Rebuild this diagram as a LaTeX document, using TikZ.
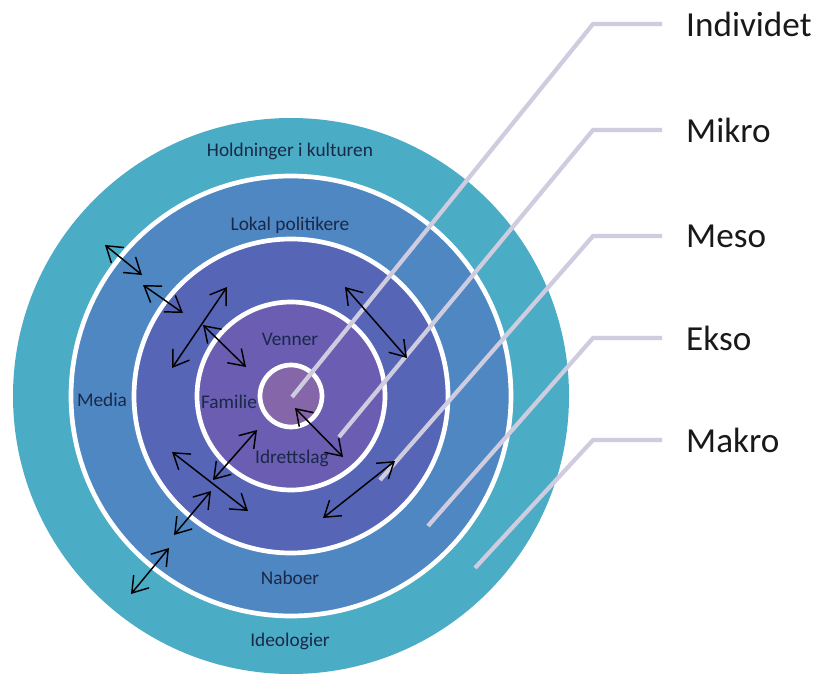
\documentclass[tikz,border=0pt]{standalone}
\usepackage{fontspec}
\setmainfont{Carlito}
\usetikzlibrary{arrows.meta}

\definecolor{ringTeal}{HTML}{4BACC6}
\definecolor{ringBlue}{HTML}{4E87C2}
\definecolor{ringIndigo}{HTML}{5765B7}
\definecolor{ringViolet}{HTML}{6A5DB2}
\definecolor{ringMauve}{HTML}{8566A8}
\definecolor{leadGray}{HTML}{CFCCE0}
\definecolor{ringInk}{HTML}{1A2848}

\begin{document}
\begin{tikzpicture}[x=0.03cm, y=-0.03cm,
    band/.style={draw=white, line width=4pt},
    leader/.style={draw=leadGray, line width=3.6pt},
    link/.style={draw=black, line width=1.25pt,
        {Straight Barb[length=4.5mm,width=6mm]}-{Straight Barb[length=4.5mm,width=6mm]}},
    ringtext/.style={text=ringInk, font=\fontsize{16.5}{20}\selectfont},
    leveltext/.style={anchor=west, inner xsep=0.72cm, inner ysep=0pt,
        text=black!90, font=\fontsize{30}{36}\selectfont}]

    % Page with the reference margins
    \useasboundingbox[fill=white] (0,0) rectangle (833,675);

    % Rings - from outside to inside
    \coordinate (ctr) at (291,396);
    \fill[ringTeal] (ctr) circle (278);
    \draw[band, fill=ringBlue] (ctr) circle (220);
    \draw[band, fill=ringIndigo] (ctr) circle (157);
    \draw[band, fill=ringViolet] (ctr) circle (94);
    \draw[band, fill=ringMauve] (ctr) circle (31);

    % Texts inside the rings
    \node[ringtext] (hold) at (290,151) {Holdninger i kulturen};
    \node[ringtext] (lokal) at (290,225) {Lokal politikere};
    \node[ringtext] (venner) at (290,339) {Venner};
    \node[ringtext] (familie) at (229,402) {Familie};
    \node[ringtext] (idrett) at (292,458) {Idrettslag};
    \node[ringtext] (media) at (102,400) {Media};
    \node[ringtext] (naboer) at (290,578) {Naboer};
    \node[ringtext] (ideo) at (290,641) {Ideologier};

    % Level names on the right
    \node[leveltext] (individ) at (662,24) {Individet};
    \node[leveltext] (mikro) at (662,130) {Mikro};
    \node[leveltext] (meso) at (662,236) {Meso};
    \node[leveltext] (ekso) at (662,338) {Ekso};
    \node[leveltext] (makro) at (662,440) {Makro};

    % Leaders - bend, then into the ring
    \coordinate (kInd) at (593,24);   \coordinate (eInd) at (292,397);
    \coordinate (kMik) at (593,130);  \coordinate (eMik) at (339,437);
    \coordinate (kMes) at (593,236);  \coordinate (eMes) at (380,480);
    \coordinate (kEks) at (593,338);  \coordinate (eEks) at (428,526);
    \coordinate (kMak) at (593,440);  \coordinate (eMak) at (475,568);
    \draw[leader] (individ.west) -- (kInd) -- (eInd);
    \draw[leader] (mikro.west) -- (kMik) -- (eMik);
    \draw[leader] (meso.west) -- (kMes) -- (eMes);
    \draw[leader] (ekso.west) -- (kEks) -- (eEks);
    \draw[leader] (makro.west) -- (kMak) -- (eMak);

    % Two-way arrows - upper left
    \coordinate (a1) at (105,245); \coordinate (b1) at (142,275);
    \coordinate (a2) at (143,285); \coordinate (b2) at (183,313);
    \coordinate (a3) at (227,287); \coordinate (b3) at (172,368);
    \coordinate (a4) at (203,325); \coordinate (b4) at (246,367);
    \draw[link] (a1) -- (b1);
    \draw[link] (a2) -- (b2);
    \draw[link] (a3) -- (b3);
    \draw[link] (a4) -- (b4);

    % Two-way arrows - lower left
    \coordinate (a5) at (172,452); \coordinate (b5) at (248,511);
    \coordinate (a6) at (257,430); \coordinate (b6) at (213,480);
    \coordinate (a7) at (211,491); \coordinate (b7) at (174,535);
    \coordinate (a8) at (169,548); \coordinate (b8) at (131,594);
    \draw[link] (a5) -- (b5);
    \draw[link] (a6) -- (b6);
    \draw[link] (a7) -- (b7);
    \draw[link] (a8) -- (b8);

    % Two-way arrows - right side
    \coordinate (a9) at (345,287); \coordinate (b9) at (407,358);
    \coordinate (a10) at (295,408); \coordinate (b10) at (343,457);
    \coordinate (a11) at (395,461); \coordinate (b11) at (323,518);
    \draw[link] (a9) -- (b9);
    \draw[link] (a10) -- (b10);
    \draw[link] (a11) -- (b11);

\end{tikzpicture}
\end{document}
